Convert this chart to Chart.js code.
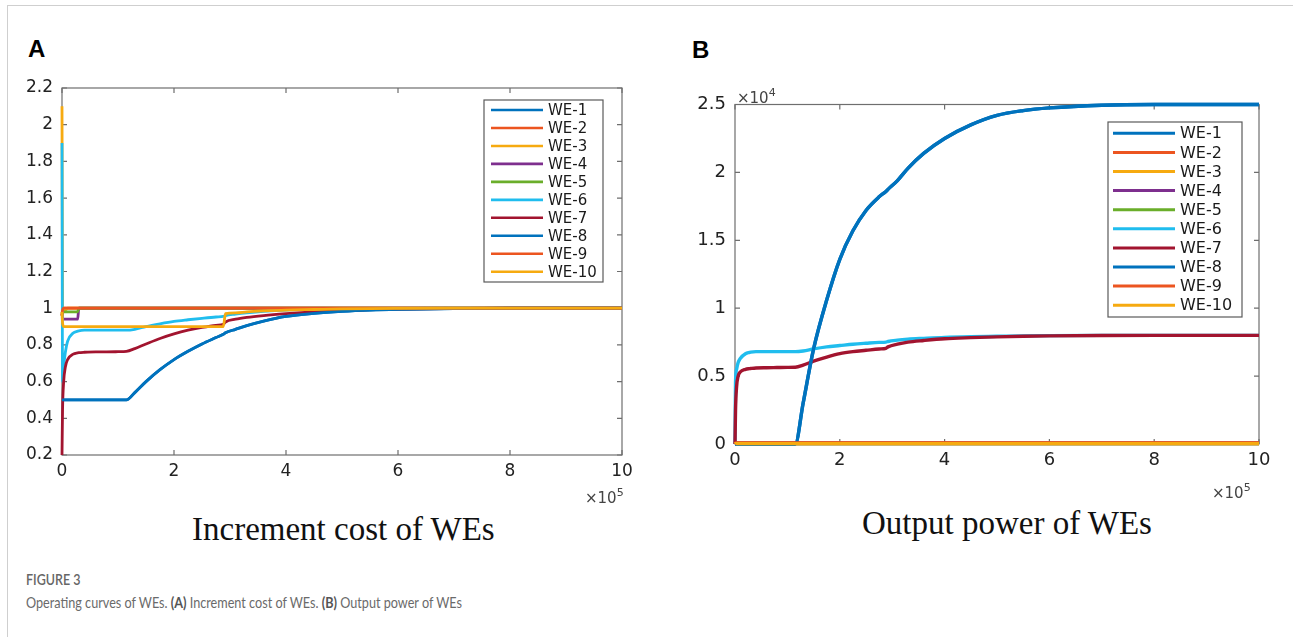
<!DOCTYPE html>
<html>
<head>
<meta charset="utf-8">
<script src="https://cdn.jsdelivr.net/npm/chart.js@4"></script>
<style>
    body { margin: 0; width: 1293px; height: 637px; background: #fff; overflow: hidden; position: relative; }
    .frame { position: absolute; left: 7px; top: 5px; width: 1300px; height: 640px; border-left: 1px solid #cfcfcf; border-top: 1px solid #cfcfcf; }
    canvas { position: absolute; }
    .t { position: absolute; white-space: nowrap; line-height: 1; }
    .panel { font-family: "Liberation Sans", Arial, sans-serif; font-weight: bold; font-size: 24px; color: #000; }
    .mult { font-family: "DejaVu Sans", sans-serif; font-size: 15px; color: #444; }
    .mult sup { font-size: 11px; vertical-align: 7px; }
    .sub { font-family: "Liberation Serif", "Times New Roman", serif; font-size: 33px; color: #111; }
    .fig { font-family: Lato, "Open Sans", sans-serif; font-size: 16px; font-weight: 600; color: #666; transform: scaleX(0.78); transform-origin: left; }
    .cap { font-family: Lato, "Open Sans", sans-serif; font-size: 16px; color: #6a6a6a; transform: scaleX(0.79); transform-origin: left; }
    .cap b { color: #555; }
</style>
</head>
<body>
<div class="frame"></div>
<div class="t panel" style="left:28px; top:37px;">A</div>
<div class="t panel" style="left:692px; top:38px;">B</div>

<canvas id="costChart" width="640" height="440" style="left:0px; top:60px;"></canvas>
<canvas id="powerChart" width="630" height="440" style="left:660px; top:60px;"></canvas>

<div class="t mult" style="left:585px; top:487px;">×10<sup>5</sup></div>
<div class="t mult" style="left:1212px; top:482px;">×10<sup>5</sup></div>
<div class="t mult" style="left:737px; top:87px;">×10<sup>4</sup></div>

<div class="t sub" style="left:192px; top:513px;">Increment cost of WEs</div>
<div class="t sub" style="left:862px; top:507px;">Output power of WEs</div>

<div class="t fig" style="left:26px; top:571px;">FIGURE 3</div>
<div class="t cap" style="left:26px; top:594px;">Operating curves of WEs. <b>(A)</b> Increment cost of WEs. <b>(B)</b> Output power of WEs</div>

<script>
"use strict";

// iteration axis, in units of 1e5
const steps = [0, 0.01, 0.03, 0.06, 0.1, 0.2, 0.28, 0.3, 0.4, 0.6, 0.8, 1.0, 1.15, 1.3, 1.5, 1.75, 2, 2.25, 2.5, 2.75, 2.88, 2.92, 3.1, 3.3, 3.6, 4, 4.5, 5, 5.5, 6, 7, 8, 9, 10];

const labels = ["WE-1", "WE-2", "WE-3", "WE-4", "WE-5", "WE-6", "WE-7", "WE-8", "WE-9", "WE-10"];
const colors = ["#0072BD", "#EC5520", "#F6AA10", "#7E2F8E", "#6AAE2A", "#20BDEE", "#A2142F", "#0072BD", "#EC5520", "#F6AA10"];

// (A) increment cost
const costWE1 = [0.5, 0.5, 0.5, 0.5, 0.5, 0.5, 0.5, 0.5, 0.5, 0.5, 0.5, 0.5, 0.5, 0.54, 0.6, 0.665, 0.72, 0.765, 0.805, 0.84, 0.858, 0.866, 0.885, 0.905, 0.93, 0.955, 0.972, 0.983, 0.99, 0.994, 0.998, 1, 1, 1];
const costWE2 = [0.96, 0.99, 1, 1, 1, 1, 1, 1, 1, 1, 1, 1, 1, 1, 1, 1, 1, 1, 1, 1, 1, 1, 1, 1, 1, 1, 1, 1, 1, 1, 1, 1, 1, 1];
const costWE3 = [2.1, 1.0, 0.99, 0.99, 1, 1, 1, 1, 1, 1, 1, 1, 1, 1, 1, 1, 1, 1, 1, 1, 1, 1, 1, 1, 1, 1, 1, 1, 1, 1, 1, 1, 1, 1];
const costWE4 = [0.97, 0.95, 0.94, 0.94, 0.94, 0.94, 0.94, 1, 1, 1, 1, 1, 1, 1, 1, 1, 1, 1, 1, 1, 1, 1, 1, 1, 1, 1, 1, 1, 1, 1, 1, 1, 1, 1];
const costWE5 = [0.97, 0.975, 0.98, 0.98, 0.98, 0.98, 0.98, 1, 1, 1, 1, 1, 1, 1, 1, 1, 1, 1, 1, 1, 1, 1, 1, 1, 1, 1, 1, 1, 1, 1, 1, 1, 1, 1];
const costWE6 = [1.9, 0.6, 0.68, 0.76, 0.82, 0.865, 0.875, 0.877, 0.88, 0.88, 0.88, 0.88, 0.88, 0.885, 0.9, 0.915, 0.928, 0.937, 0.945, 0.952, 0.955, 0.96, 0.968, 0.975, 0.983, 0.99, 0.994, 0.997, 0.998, 0.999, 1, 1, 1, 1];
const costWE7 = [0.2, 0.45, 0.6, 0.68, 0.72, 0.75, 0.757, 0.758, 0.76, 0.762, 0.762, 0.763, 0.765, 0.78, 0.805, 0.835, 0.86, 0.88, 0.895, 0.907, 0.913, 0.925, 0.94, 0.95, 0.96, 0.97, 0.98, 0.987, 0.992, 0.995, 0.998, 1, 1, 1];
const costWE8 = [0.5, 0.5, 0.5, 0.5, 0.5, 0.5, 0.5, 0.5, 0.5, 0.5, 0.5, 0.5, 0.5, 0.54, 0.6, 0.665, 0.72, 0.765, 0.805, 0.84, 0.858, 0.866, 0.885, 0.905, 0.93, 0.955, 0.972, 0.983, 0.99, 0.994, 0.998, 1, 1, 1];
const costWE9 = [0.96, 0.99, 1, 1, 1, 1, 1, 1, 1, 1, 1, 1, 1, 1, 1, 1, 1, 1, 1, 1, 1, 1, 1, 1, 1, 1, 1, 1, 1, 1, 1, 1, 1, 1];
const costWE10 = [0.98, 0.92, 0.9, 0.9, 0.9, 0.9, 0.9, 0.9, 0.9, 0.9, 0.9, 0.9, 0.9, 0.9, 0.9, 0.9, 0.9, 0.9, 0.9, 0.9, 0.9, 0.97, 0.975, 0.98, 0.985, 0.99, 0.993, 0.996, 0.998, 0.999, 1, 1, 1, 1];

// (B) output power, in units of 1e4
const powerWE1 = [0, 0, 0, 0, 0, 0, 0, 0, 0, 0, 0, 0, 0, 0.3, 0.7, 1.06, 1.36, 1.57, 1.72, 1.82, 1.86, 1.875, 1.94, 2.03, 2.14, 2.25, 2.35, 2.42, 2.455, 2.475, 2.495, 2.5, 2.5, 2.5];
const powerWE2 = [0, 0.006, 0.007, 0.007, 0.007, 0.007, 0.007, 0.007, 0.007, 0.007, 0.007, 0.007, 0.007, 0.007, 0.007, 0.007, 0.007, 0.007, 0.007, 0.007, 0.007, 0.007, 0.007, 0.007, 0.007, 0.007, 0.007, 0.007, 0.007, 0.007, 0.007, 0.007, 0.007, 0.007];
const powerWE3 = [0, 0.003, 0.003, 0.003, 0.003, 0.003, 0.003, 0.003, 0.003, 0.003, 0.003, 0.003, 0.003, 0.003, 0.003, 0.003, 0.003, 0.003, 0.003, 0.003, 0.003, 0.003, 0.003, 0.003, 0.003, 0.003, 0.003, 0.003, 0.003, 0.003, 0.003, 0.003, 0.003, 0.003];
const powerWE4 = [0, 0.004, 0.004, 0.004, 0.004, 0.004, 0.004, 0.004, 0.004, 0.004, 0.004, 0.004, 0.004, 0.004, 0.004, 0.004, 0.004, 0.004, 0.004, 0.004, 0.004, 0.004, 0.004, 0.004, 0.004, 0.004, 0.004, 0.004, 0.004, 0.004, 0.004, 0.004, 0.004, 0.004];
const powerWE5 = [0, 0.004, 0.004, 0.004, 0.004, 0.004, 0.004, 0.004, 0.004, 0.004, 0.004, 0.004, 0.004, 0.004, 0.004, 0.004, 0.004, 0.004, 0.004, 0.004, 0.004, 0.004, 0.004, 0.004, 0.004, 0.004, 0.004, 0.004, 0.004, 0.004, 0.004, 0.004, 0.004, 0.004];
const powerWE6 = [0, 0.45, 0.55, 0.6, 0.63, 0.665, 0.675, 0.677, 0.68, 0.68, 0.68, 0.68, 0.68, 0.685, 0.7, 0.715, 0.725, 0.735, 0.742, 0.748, 0.75, 0.755, 0.765, 0.772, 0.778, 0.785, 0.79, 0.793, 0.796, 0.798, 0.8, 0.8, 0.8, 0.8];
const powerWE7 = [0, 0.25, 0.42, 0.5, 0.53, 0.55, 0.555, 0.556, 0.56, 0.562, 0.563, 0.564, 0.565, 0.58, 0.61, 0.64, 0.665, 0.68, 0.69, 0.7, 0.705, 0.715, 0.735, 0.75, 0.762, 0.775, 0.783, 0.789, 0.793, 0.796, 0.799, 0.8, 0.8, 0.8];
const powerWE8 = [0, 0, 0, 0, 0, 0, 0, 0, 0, 0, 0, 0, 0, 0.3, 0.7, 1.06, 1.36, 1.57, 1.72, 1.82, 1.86, 1.875, 1.94, 2.03, 2.14, 2.25, 2.35, 2.42, 2.455, 2.475, 2.495, 2.5, 2.5, 2.5];
const powerWE9 = [0, 0.006, 0.007, 0.007, 0.007, 0.007, 0.007, 0.007, 0.007, 0.007, 0.007, 0.007, 0.007, 0.007, 0.007, 0.007, 0.007, 0.007, 0.007, 0.007, 0.007, 0.007, 0.007, 0.007, 0.007, 0.007, 0.007, 0.007, 0.007, 0.007, 0.007, 0.007, 0.007, 0.007];
const powerWE10 = [0, 0.003, 0.003, 0.003, 0.003, 0.003, 0.003, 0.003, 0.003, 0.003, 0.003, 0.003, 0.003, 0.003, 0.003, 0.003, 0.003, 0.003, 0.003, 0.003, 0.003, 0.003, 0.003, 0.003, 0.003, 0.003, 0.003, 0.003, 0.003, 0.003, 0.003, 0.003, 0.003, 0.003];

const costSeries = [costWE1, costWE2, costWE3, costWE4, costWE5, costWE6, costWE7, costWE8, costWE9, costWE10];
const powerSeries = [powerWE1, powerWE2, powerWE3, powerWE4, powerWE5, powerWE6, powerWE7, powerWE8, powerWE9, powerWE10];

// matlab style box with inward ticks on all four sides
const frameBox = {
    id: "frameBox",
    beforeDatasetsDraw(chart) {
        const { ctx, chartArea: a, scales } = chart;
        const len = 5;
        ctx.save();
        ctx.strokeStyle = "#6e6e6e";
        ctx.lineWidth = 1.2;
        ctx.strokeRect(a.left, a.top, a.right - a.left, a.bottom - a.top);
        ctx.beginPath();
        scales.x.ticks.forEach((t) => {
            const px = scales.x.getPixelForValue(t.value);
            ctx.moveTo(px, a.bottom);
            ctx.lineTo(px, a.bottom - len);
            ctx.moveTo(px, a.top);
            ctx.lineTo(px, a.top + len);
        });
        scales.y.ticks.forEach((t) => {
            const py = scales.y.getPixelForValue(t.value);
            ctx.moveTo(a.left, py);
            ctx.lineTo(a.left + len, py);
            ctx.moveTo(a.right, py);
            ctx.lineTo(a.right - len, py);
        });
        ctx.stroke();
        ctx.restore();
    },
};

// legend box inside the plot, top right
const boxLegend = {
    id: "boxLegend",
    afterDraw(chart, args, o) {
        const { ctx, chartArea: a } = chart;
        const x0 = a.right - o.right - o.width;
        const y0 = a.top + o.top;
        ctx.save();
        ctx.fillStyle = "#fff";
        ctx.fillRect(x0, y0, o.width, o.height);
        ctx.strokeStyle = "#5a5a5a";
        ctx.lineWidth = 1.2;
        ctx.strokeRect(x0, y0, o.width, o.height);
        ctx.font = o.font;
        ctx.textBaseline = "middle";
        chart.data.datasets.forEach((ds, i) => {
            const y = y0 + o.first + i * o.gap;
            ctx.strokeStyle = ds.borderColor;
            ctx.lineWidth = o.lineWidth;
            ctx.beginPath();
            ctx.moveTo(x0 + o.lineX, y);
            ctx.lineTo(x0 + o.lineX + o.lineLen, y);
            ctx.stroke();
            ctx.fillStyle = "#1a1a1a";
            ctx.fillText(ds.label, x0 + o.textX, y + 1);
        });
        ctx.restore();
    },
};

// later series drawn on top, like matlab
const makeDatasets = (series, width) => {
    return series.map((vals, i) => ({
        label: labels[i],
        data: vals.map((v, j) => ({ x: steps[j], y: v })),
        borderColor: colors[i],
        backgroundColor: colors[i],
        borderWidth: width,
        pointRadius: 0,
        showLine: true,
        cubicInterpolationMode: "monotone",
        clip: false,
        order: series.length - i,
    }));
};

const renderChart = (id, series, opts) => {
    const ctx = document.getElementById(id).getContext("2d");
    const tickFont = { family: "DejaVu Sans", size: opts.fontSize };

    new Chart(ctx, {
        type: "scatter",
        data: { datasets: makeDatasets(series, opts.lineWidth) },
        options: {
            responsive: false,
            animation: false,
            layout: { padding: opts.padding },
            plugins: {
                legend: { display: false },
                tooltip: { enabled: false },
                boxLegend: opts.legend,
            },
            scales: {
                x: {
                    type: "linear",
                    min: 0,
                    max: 10,
                    ticks: { stepSize: 2, font: tickFont, color: "#222", padding: 6, maxRotation: 0 },
                    grid: { display: false, drawTicks: false },
                    border: { display: false },
                    afterFit: (s) => { s.height = opts.xHeight; },
                },
                y: {
                    type: "linear",
                    min: opts.yMin,
                    max: opts.yMax,
                    ticks: {
                        stepSize: opts.yStep,
                        font: tickFont,
                        color: "#222",
                        padding: 9,
                        callback: (v) => +v.toFixed(1),
                    },
                    grid: { display: false, drawTicks: false },
                    border: { display: false },
                    afterFit: (s) => { s.width = opts.yWidth; },
                },
            },
        },
        plugins: [frameBox, boxLegend],
    });
};

window.onload = () => {
    renderChart("costChart", costSeries, {
        fontSize: 17,
        lineWidth: 2.8,
        padding: { left: 0, top: 28, right: 18, bottom: 0 },
        xHeight: 45,
        yWidth: 62,
        yMin: 0.2,
        yMax: 2.2,
        yStep: 0.2,
        legend: { right: 19, top: 12, width: 119, height: 182, first: 10, gap: 17.97, lineX: 7, lineLen: 52, textX: 64, lineWidth: 2.6, font: "15px 'DejaVu Sans'" },
    });

    renderChart("powerChart", powerSeries, {
        fontSize: 18,
        lineWidth: 3.4,
        padding: { left: 0, top: 44.5, right: 31, bottom: 0 },
        xHeight: 56,
        yWidth: 75,
        yMin: 0,
        yMax: 2.5,
        yStep: 0.5,
        legend: { right: 17, top: 17.5, width: 134, height: 195, first: 11.3, gap: 19.1, lineX: 5, lineLen: 62, textX: 72, lineWidth: 3, font: "16px 'DejaVu Sans'" },
    });
};
</script>
</body>
</html>
